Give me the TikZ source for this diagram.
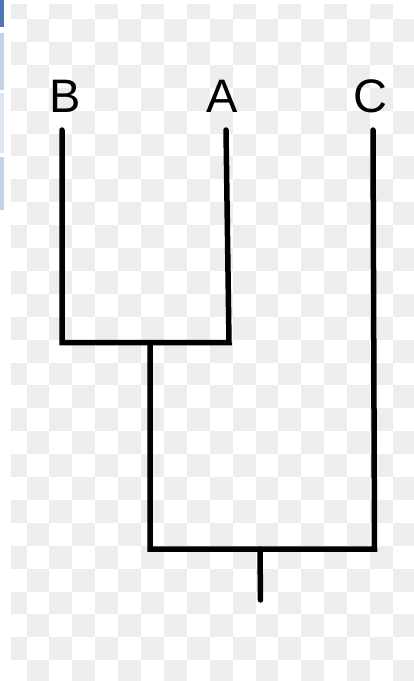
\documentclass[tikz,border=0pt]{standalone}
\usepackage{fontspec}
\setmainfont{Liberation Sans}
\definecolor{chk}{RGB}{237,237,237}
\definecolor{stripdark}{RGB}{78,120,180}
\definecolor{stripa}{RGB}{196,210,232}
\definecolor{stripb}{RGB}{222,229,240}
\begin{document}
\begin{tikzpicture}[x=1pt,y=-1pt,
  branch/.style={line width=5.5pt, line cap=round, line join=miter, black},
  lbl/.style={inner sep=0pt, anchor=base, font=\fontsize{47}{50}\selectfont}]
\fill[white] (0,0) rectangle (414,681);
\useasboundingbox (0,0) rectangle (414,681);
% checkerboard background
\begin{scope}
  \clip (11,4) rectangle (414,681);
  \foreach \c in {0,...,18}{
    \foreach \r in {0,...,30}{
      \pgfmathtruncatemacro{\parity}{mod(\c+\r,2)}
      \ifnum\parity=0
        \fill[chk] ({3.6+22.9*\c},{-3.9+22.9*\r}) rectangle ++(22.9,22.9);
      \fi
    }
  }
\end{scope}
% left strip
\fill[stripdark] (0,0) rectangle (4,27);
\fill[stripa] (0,33) rectangle (4,90);
\fill[stripb] (0,93) rectangle (4,153);
\fill[stripa] (0,157) rectangle (4,210);
% labels
\node[lbl] (B) at (65,112) {B};
\node[lbl] (A) at (222.5,112) {A};
\node[lbl] (C) at (370.5,112) {C};
% tree points
\coordinate (bTop) at (62,130);
\coordinate (bBot) at (62,342.5);
\coordinate (aBot) at (229,342.5);
\coordinate (aTop) at (226,130);
\coordinate (abMid) at (150,342.5);
\coordinate (rootL) at (150,549);
\coordinate (cBot) at (374.5,549);
\coordinate (cTop) at (373,130);
\coordinate (rootMid) at (260,549);
\coordinate (root) at (260.5,600);
% branches
\draw[branch] (bTop) -- (bBot) -- (aBot) -- (aTop);
\draw[branch] (abMid) -- (rootL) -- (cBot) -- (cTop);
\draw[branch] (rootMid) -- (root);
\end{tikzpicture}
\end{document}
